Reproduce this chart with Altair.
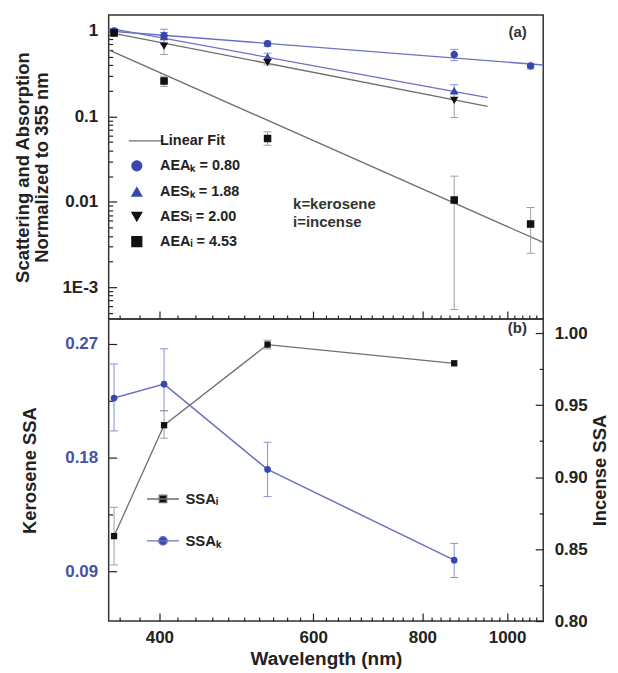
import altair as alt
import pandas as pd

# ---------------- data ----------------
wl5 = [355, 405, 532, 870, 1064]
wl4 = [355, 405, 532, 870]

aea_k = [1.0, 0.88, 0.71, 0.53, 0.39]
aea_k_lo = [0.93, 0.80, 0.66, 0.45, 0.36]
aea_k_hi = [1.07, 0.96, 0.76, 0.61, 0.42]

aes_k = [1.0, 0.85, 0.50, 0.20]
aes_k_lo = [0.93, 0.70, 0.46, 0.18]
aes_k_hi = [1.07, 1.05, 0.55, 0.235]

aes_i = [0.95, 0.67, 0.43, 0.155]
aes_i_lo = [0.88, 0.53, 0.40, 0.097]
aes_i_hi = [1.02, 0.82, 0.46, 0.185]

aea_i = [0.95, 0.26, 0.055, 0.0105, 0.0055]
aea_i_lo = [0.88, 0.225, 0.046, 0.00055, 0.0025]
aea_i_hi = [1.02, 0.295, 0.066, 0.020, 0.0086]

series_names = ["Linear Fit", "AEAₖ = 0.80", "AESₖ = 1.88", "AESᵢ = 2.00", "AEAᵢ = 4.53"]

# linear-fit end points
fit_x0 = [350, 350, 350, 350]
fit_x1 = [1100, 950, 950, 1100]
fit_y0 = [1.0, 1.08, 0.965, 0.60]
fit_y1 = [0.40, 0.166, 0.131, 0.00335]
fit_group = ["k", "k", "i", "i"]

ssa_wl = [355, 405, 532, 870]
ssa_i = [0.859, 0.936, 0.992, 0.979]
ssa_i_lo = [0.839, 0.927, 0.989, 0.979]
ssa_i_hi = [0.879, 0.946, 0.995, 0.979]
ssa_k = [0.227, 0.238, 0.1705, 0.0987]
ssa_k_lo = [0.201, 0.217, 0.149, 0.085]
ssa_k_hi = [0.254, 0.266, 0.192, 0.112]
ssa_names = ["SSAᵢ", "SSAₖ"]

x_major = [400, 600, 800, 1000]
x_minor = [360, 380, 420, 440, 460, 480, 500, 520, 540, 560, 580, 620, 640, 660,
           680, 700, 720, 740, 760, 780, 820, 840, 860, 880, 900, 920, 940, 960,
           980, 1020, 1040, 1060, 1080]
y_log_major = [0.001, 0.01, 0.1, 1]
y_log_minor = [0.0005, 0.0006, 0.0007, 0.0008, 0.0009,
               0.002, 0.003, 0.004, 0.005, 0.006, 0.007, 0.008, 0.009,
               0.02, 0.03, 0.04, 0.05, 0.06, 0.07, 0.08, 0.09,
               0.2, 0.3, 0.4, 0.5, 0.6, 0.7, 0.8, 0.9]
k_major = [0.09, 0.18, 0.27]
k_minor = [0.135, 0.225]
i_major = [0.80, 0.85, 0.90, 0.95, 1.00]
i_minor = [0.825, 0.875, 0.925, 0.975]

top_notes = ["(a)", "k=kerosene", "i=incense"]
top_notes_x = [1004, 569, 569]
top_notes_y = [0.97, 0.0095, 0.00585]

# ---------------- tables ----------------
rows = []
for name, grp, xs_, v, lo, hi in [
    (series_names[1], "k", wl5, aea_k, aea_k_lo, aea_k_hi),
    (series_names[2], "k", wl4, aes_k, aes_k_lo, aes_k_hi),
    (series_names[3], "i", wl4, aes_i, aes_i_lo, aes_i_hi),
    (series_names[4], "i", wl5, aea_i, aea_i_lo, aea_i_hi),
]:
    for a, b, c, d in zip(xs_, v, lo, hi):
        rows.append({"series": name, "grp": grp, "wl": a, "val": b, "lo": c, "hi": d})
pts = pd.DataFrame(rows)

fit_rows = []
for i in range(len(fit_x0)):
    fit_rows.append({"fit": i, "grp": fit_group[i], "wl": fit_x0[i], "val": fit_y0[i]})
    fit_rows.append({"fit": i, "grp": fit_group[i], "wl": fit_x1[i], "val": fit_y1[i]})
fits_df = pd.DataFrame(fit_rows)

ssa_df = pd.DataFrame({"wl": ssa_wl, "i": ssa_i, "i_lo": ssa_i_lo, "i_hi": ssa_i_hi,
                       "k": ssa_k, "k_lo": ssa_k_lo, "k_hi": ssa_k_hi})
ssa_i_err = ssa_df[ssa_df["i_lo"] < ssa_df["i_hi"]]
notes_df = pd.DataFrame({"t": top_notes, "wl": top_notes_x, "val": top_notes_y})
b_df = pd.DataFrame({"t": ["(b)"], "wl": [1002], "val": [1.0035]})
leg_df = pd.DataFrame({"name": ssa_names})

# ---------------- styles ----------------
FONT = "Liberation Sans"
W, H1, H2 = 436, 305, 303
blue_mark = "#3748ad"
blue_line = "#6a72c2"
blue_err = "#8a90d0"
gray_line = "#6e6e6e"
gray_err = "#a0a0a0"
black = "#111111"
blue_lab = "#4652a6"

xs = alt.Scale(type="log", domain=[350, 1100], nice=False)
ys = alt.Scale(type="log", domain=[4.25e-4, 1.535], nice=False)
ks = alt.Scale(domain=[0.0505, 0.2895], nice=False, zero=False)
iscale = alt.Scale(domain=[0.80, 1.0097], nice=False, zero=False)


def tick_x(values, size, h):
    return alt.Axis(orient="top", offset=-h, values=values, tickSize=size, labels=False,
                    domain=False, grid=False, title=None, tickColor="#222", tickWidth=1.2)


def tick_y(values, size, orient):
    return alt.Axis(orient=orient, offset=-W, values=values, tickSize=size, labels=False,
                    domain=False, grid=False, title=None, tickColor="#222", tickWidth=1.2)


grp_line = alt.Scale(domain=["k", "i"], range=[blue_line, gray_line])
grp_err = alt.Scale(domain=["k", "i"], range=[blue_err, gray_err])

# ---------------- panel (a) ----------------
fits = alt.Chart(fits_df).mark_line(strokeWidth=1.3).encode(
    x=alt.X("wl:Q", scale=xs, axis=tick_x(x_major, 8, H1)),
    y=alt.Y("val:Q", scale=ys, axis=alt.Axis(
        orient="left", title=["Scattering and Absorption", "Normalized to 355 nm"],
        values=y_log_major, labelExpr="datum.value < 0.005 ? '1E-3' : format(datum.value, '~g')",
        ticks=False, tickSize=0, domain=False, grid=False, labelPadding=11, titlePadding=10,
        titleLineHeight=20)),
    color=alt.Color("grp:N", scale=grp_line, legend=None),
    detail="fit:N",
)

err = alt.Chart(pts).mark_rule(strokeWidth=1).encode(
    x=alt.X("wl:Q", scale=xs, axis=tick_x(x_minor, 4, H1)),
    y=alt.Y("lo:Q", scale=ys, axis=tick_y(y_log_major, 8, "right")),
    y2="hi:Q",
    color=alt.Color("grp:N", scale=grp_err, legend=None),
)
cap_lo = alt.Chart(pts).mark_tick(orient="horizontal", size=8, thickness=1, opacity=1).encode(
    x=alt.X("wl:Q", scale=xs, axis=None),
    y=alt.Y("lo:Q", scale=ys, axis=tick_y(y_log_minor, 4, "right")),
    color=alt.Color("grp:N", scale=grp_err, legend=None),
)
cap_hi = alt.Chart(pts).mark_tick(orient="horizontal", size=8, thickness=1, opacity=1).encode(
    x=alt.X("wl:Q", scale=xs, axis=None),
    y=alt.Y("hi:Q", scale=ys, axis=None),
    color=alt.Color("grp:N", scale=grp_err, legend=None),
)

leg_a = alt.Legend(orient="none", legendX=21, legendY=119, title=None, labelFont=FONT,
                   labelFontWeight="bold", labelFontSize=14.5, labelColor="#222",
                   rowPadding=10, labelOffset=16, padding=0, symbolStrokeWidth=1.2)
shape_range_a = ["M-1.6,0L5.4,0", "circle", "triangle-up", "triangle-down", "square"]
col_range_a = [gray_line, blue_mark, blue_mark, black, black]
points = alt.Chart(pts).mark_point(filled=True, size=40, opacity=1, strokeWidth=1.2).encode(
    x=alt.X("wl:Q", scale=xs, axis=None),
    y=alt.Y("val:Q", scale=ys, axis=None),
    color=alt.Color("series:N", scale=alt.Scale(domain=series_names, range=col_range_a), legend=leg_a),
    stroke=alt.Stroke("series:N", scale=alt.Scale(domain=series_names, range=col_range_a), legend=leg_a),
    shape=alt.Shape("series:N", scale=alt.Scale(domain=series_names, range=shape_range_a), legend=leg_a),
)

notes = alt.Chart(notes_df).mark_text(align="left", baseline="middle", font=FONT,
                                      fontWeight="bold", fontSize=15, color="#333").encode(
    x=alt.X("wl:Q", scale=xs, axis=None),
    y=alt.Y("val:Q", scale=ys, axis=None),
    text="t:N",
)

top = alt.layer(fits, err, cap_lo, cap_hi, points, notes).resolve_scale(
    color="independent", stroke="independent", shape="independent").resolve_axis(
    x="independent", y="independent").properties(width=W, height=H1)

# ---------------- panel (b) ----------------
k_line = alt.Chart(ssa_df).mark_line(color=blue_line, strokeWidth=1.5).encode(
    x=alt.X("wl:Q", scale=xs, axis=alt.Axis(
        orient="bottom", values=x_major, title="Wavelength (nm)", format="d", ticks=False,
        tickSize=0, domain=False, grid=False, labelPadding=9, titlePadding=4, titleFontSize=19)),
    y=alt.Y("k:Q", scale=ks, axis=alt.Axis(
        orient="left", values=k_major, title="Kerosene SSA", format=".2f", labelColor=blue_lab,
        ticks=False, tickSize=0, domain=False, grid=False, labelPadding=11, titlePadding=25)),
)
k_err = alt.Chart(ssa_df).mark_rule(color=blue_err, strokeWidth=1).encode(
    x=alt.X("wl:Q", scale=xs, axis=tick_x(x_major, 8, H2)),
    y=alt.Y("k_lo:Q", scale=ks, axis=tick_y(k_major, 8, "right")),
    y2="k_hi:Q",
)
k_cap_lo = alt.Chart(ssa_df).mark_tick(orient="horizontal", size=8, thickness=1, opacity=1,
                                       color=blue_err).encode(
    x=alt.X("wl:Q", scale=xs, axis=tick_x(x_minor, 4, H2)),
    y=alt.Y("k_lo:Q", scale=ks, axis=tick_y(k_minor, 4, "right")),
)
k_cap_hi = alt.Chart(ssa_df).mark_tick(orient="horizontal", size=8, thickness=1, opacity=1,
                                       color=blue_err).encode(
    x=alt.X("wl:Q", scale=xs, axis=None),
    y=alt.Y("k_hi:Q", scale=ks, axis=None),
)
k_pts = alt.Chart(ssa_df).mark_point(filled=True, shape="circle", size=45, opacity=1,
                                     color=blue_mark).encode(
    x=alt.X("wl:Q", scale=xs, axis=None),
    y=alt.Y("k:Q", scale=ks, axis=None),
)

i_line = alt.Chart(ssa_df).mark_line(color=gray_line, strokeWidth=1.3).encode(
    x=alt.X("wl:Q", scale=xs, axis=None),
    y=alt.Y("i:Q", scale=iscale, axis=alt.Axis(
        orient="right", values=i_major, title="Incense SSA", format=".2f", ticks=False,
        tickSize=0, domain=False, grid=False, labelPadding=11, titlePadding=3,
        titleAngle=270, titleBaseline="top")),
)
i_err = alt.Chart(ssa_i_err).mark_rule(color=gray_err, strokeWidth=1).encode(
    x=alt.X("wl:Q", scale=xs, axis=None),
    y=alt.Y("i_lo:Q", scale=iscale, axis=tick_y(i_major, 8, "left")),
    y2="i_hi:Q",
)
i_cap_lo = alt.Chart(ssa_i_err).mark_tick(orient="horizontal", size=8, thickness=1, opacity=1,
                                          color=gray_err).encode(
    x=alt.X("wl:Q", scale=xs, axis=None),
    y=alt.Y("i_lo:Q", scale=iscale, axis=tick_y(i_minor, 4, "left")),
)
i_cap_hi = alt.Chart(ssa_i_err).mark_tick(orient="horizontal", size=8, thickness=1, opacity=1,
                                          color=gray_err).encode(
    x=alt.X("wl:Q", scale=xs, axis=None),
    y=alt.Y("i_hi:Q", scale=iscale, axis=None),
)
i_pts = alt.Chart(ssa_df).mark_point(filled=True, shape="square", size=40, opacity=1,
                                     color=black).encode(
    x=alt.X("wl:Q", scale=xs, axis=None),
    y=alt.Y("i:Q", scale=iscale, axis=None),
)
b_text = alt.Chart(b_df).mark_text(align="left", baseline="middle", font=FONT,
                                   fontWeight="bold", fontSize=15, color="#333").encode(
    x=alt.X("wl:Q", scale=xs, axis=None),
    y=alt.Y("val:Q", scale=iscale, axis=None),
    text="t:N",
)

leg_b = alt.Legend(orient="none", legendX=47, legendY=173, title=None, labelFont=FONT,
                   labelFontWeight="bold", labelFontSize=15, labelColor="#222",
                   rowPadding=26, labelOffset=15, padding=0, symbolStrokeWidth=1.3)
shape_range_b = ["M-3.2,0L3.2,0M-0.75,-0.75L0.75,-0.75L0.75,0.75L-0.75,0.75Z",
                 "M-3.2,0L3.2,0M0.85,0A0.85,0.85,0,1,1,-0.85,0A0.85,0.85,0,1,1,0.85,0Z"]
legend_carrier = alt.Chart(leg_df).transform_filter("false").mark_point(
    filled=True, size=100, opacity=1, strokeWidth=1.3).encode(
    color=alt.Color("name:N", scale=alt.Scale(domain=ssa_names, range=[black, blue_mark]), legend=leg_b),
    stroke=alt.Stroke("name:N", scale=alt.Scale(domain=ssa_names, range=[gray_line, blue_line]), legend=leg_b),
    shape=alt.Shape("name:N", scale=alt.Scale(domain=ssa_names, range=shape_range_b), legend=leg_b),
)

bottom = alt.layer(k_line, k_err, k_cap_lo, k_cap_hi, i_line, i_err, i_cap_lo, i_cap_hi,
                   i_pts, k_pts, b_text, legend_carrier).resolve_scale(
    y="independent").resolve_axis(x="independent", y="independent").properties(width=W, height=H2)

chart = alt.vconcat(top, bottom, spacing=0, bounds="flush").resolve_scale(
    color="independent", shape="independent", stroke="independent",
    x="independent", y="independent").properties(
    background="white", padding={"left": 4, "top": 5, "right": 0, "bottom": 5}).configure_axis(
    labelFont=FONT, titleFont=FONT, labelFontWeight="bold", titleFontWeight="bold",
    labelFontSize=17, titleFontSize=18.5, labelColor="#222", titleColor="#222",
).configure_view(stroke="#333", strokeWidth=1.5)

chart.save("out.html", embed_options={"renderer": "svg", "actions": False})
